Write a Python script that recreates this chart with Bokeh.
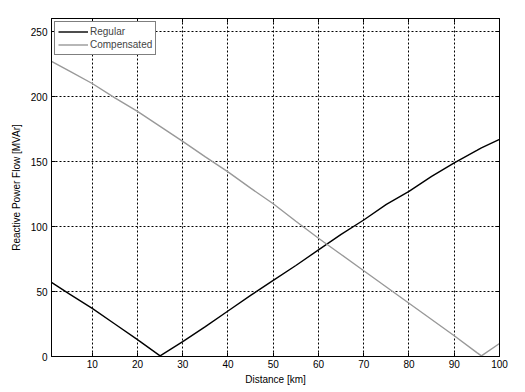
from bokeh.plotting import figure
from bokeh.models import LinearAxis, FixedTicker, Range1d, Legend, LegendItem, ColumnDataSource, CustomJSTickFormatter
from bokeh.embed import file_html
from bokeh.resources import INLINE

distance = [1, 5, 10, 15, 20, 25, 30, 35, 40, 45, 50, 55, 60, 65, 70, 75, 80, 85, 90, 95, 96, 100]
regular = [57, 48, 37, 25, 13, 0.5, 11.5, 23, 35, 47, 58.5, 70, 82, 94, 105, 117, 127, 138.5, 149, 158.5, 160.5, 167]
compensated = [227, 219.5, 210, 199, 188.5, 177, 165.5, 153.5, 142, 129.5, 117.5, 104, 91, 78.5, 66, 53.5, 41, 28.5, 16, 3, 0.5, 10]
x_ticks = [10, 20, 30, 40, 50, 60, 70, 80, 90, 100]
y_ticks = [0, 50, 100, 150, 200, 250]

FONT = "Liberation Sans"
FS = "10px"

src = ColumnDataSource(dict(x=distance, reg=regular, comp=compensated))

p = figure(width=517, height=387, x_range=Range1d(1, 100), y_range=Range1d(0, 260),
           output_backend="svg", toolbar_location=None,
           min_border_left=51, min_border_right=18, min_border_top=18, min_border_bottom=30,
           x_axis_label="Distance [km]", y_axis_label="Reactive Power Flow [MVAr]")

p.outline_line_color = "black"
p.outline_line_width = 1
p.background_fill_color = "white"
p.border_fill_color = "white"

for ax, ticks in ((p.xaxis[0], x_ticks), (p.yaxis[0], y_ticks)):
    ax.ticker = FixedTicker(ticks=ticks)
    ax.major_tick_in = 4
    ax.major_tick_out = 0
    ax.minor_tick_line_color = None
    ax.axis_line_color = "black"
    ax.major_label_text_font = FONT
    ax.major_label_text_font_size = FS
    ax.major_label_text_color = "black"
    ax.axis_label_text_font = FONT
    ax.axis_label_text_font_size = FS
    ax.axis_label_text_font_style = "normal"
    ax.axis_label_text_color = "black"
    ax.major_label_standoff = 4
    ax.axis_label_standoff = 6

p.xaxis[0].major_label_standoff = 3
p.xaxis[0].axis_label_standoff = 3

blank = CustomJSTickFormatter(code="return ''")
for loc, ticks in (("right", y_ticks), ("above", x_ticks)):
    ax = LinearAxis(ticker=FixedTicker(ticks=ticks), formatter=blank)
    ax.major_tick_in = 4
    ax.major_tick_out = 0
    ax.minor_tick_line_color = None
    ax.major_label_standoff = 0
    ax.axis_line_color = "black"
    p.add_layout(ax, loc)

p.xgrid.ticker = FixedTicker(ticks=x_ticks)
p.ygrid.ticker = FixedTicker(ticks=y_ticks)
for g in (p.xgrid[0], p.ygrid[0]):
    g.grid_line_color = "black"
    g.grid_line_dash = "2 2"
    g.grid_line_width = 1

r1 = p.line("x", "reg", source=src, line_color="black", line_width=1.4)
r2 = p.line("x", "comp", source=src, line_color="#999999", line_width=1.4)

legend = Legend(items=[LegendItem(label="Regular", renderers=[r1]),
                       LegendItem(label="Compensated", renderers=[r2])],
                location="top_left")
legend.margin = 3
legend.padding = 3
legend.spacing = 0
legend.glyph_width = 30
legend.glyph_height = 13
legend.label_height = 13
legend.label_standoff = 2
legend.label_text_font = FONT
legend.label_text_font_size = FS
legend.border_line_color = "black"
legend.border_line_width = 1
legend.background_fill_alpha = 1
p.add_layout(legend)

open("out.html", "w").write(file_html(p, INLINE))
